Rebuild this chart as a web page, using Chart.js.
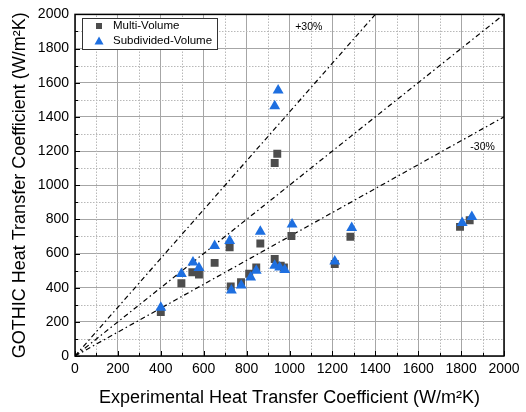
<!DOCTYPE html>
<html>
<head>
<meta charset="utf-8">
<script src="https://cdn.jsdelivr.net/npm/chart.js@4"></script>
<style>
  html, body { margin: 0; padding: 0; background: #fff; }
  #stage { display: block; }
</style>
</head>
<body>
<canvas id="stage" width="526" height="412"></canvas>
<script>
// 実験値 (x) と GOTHIC 計算値 (y)
const multiX = [400, 496, 547, 578, 651, 721, 726, 774, 812, 845, 864, 931, 943, 931, 959, 974, 1009, 1211, 1284, 1795, 1840];
const multiY = [258, 426, 490, 477, 545, 636, 407, 432, 482, 519, 659, 1130, 1184, 568, 529, 519, 703, 539, 698, 756, 795];
const subX = [400, 496, 550, 578, 651, 721, 729, 775, 819, 845, 864, 931, 947, 931, 954, 978, 1012, 1211, 1290, 1805, 1850];
const subY = [283, 481, 548, 516, 645, 674, 384, 413, 461, 500, 729, 1463, 1556, 529, 519, 504, 771, 554, 750, 780, 815];

// 参照線 (+30%, 1:1, -30%)
const refUpperX = [0, 1400];
const refUpperY = [0, 2000];
const refEqualX = [0, 2000];
const refEqualY = [0, 2000];
const refLowerX = [0, 2000];
const refLowerY = [0, 1400];

const axisMin = 0, axisMax = 2000, majorStep = 200, minorStep = 100;

const FONT = "'Liberation Sans', Arial, sans-serif";
const SQ_COLOR = 'rgb(77,77,77)';
const TRI_COLOR = 'rgb(30,111,224)';
const DASHDOT = [5, 3, 1.5, 3];

function pts(xs, ys) {
    return xs.map((x, i) => ({ x: x, y: ys[i] }));
}

// 補助目盛りの点線グリッドと内向き目盛り・注記・凡例
const decorPlugin = {
    id: 'decor',
    beforeDatasetsDraw(chart) {
        const ctx = chart.ctx;
        const a = chart.chartArea;
        const xs = chart.scales.x, ys = chart.scales.y;
        ctx.save();
        ctx.strokeStyle = '#b8b8b8';
        ctx.lineWidth = 1;
        ctx.setLineDash([1.5, 1.5]);
        for (const t of chart.scales.xm.ticks) {
            if (t.value % majorStep === 0) continue;
            const px = Math.round(xs.getPixelForValue(t.value)) + 0.5;
            ctx.beginPath();
            ctx.moveTo(px, a.bottom);
            ctx.lineTo(px, a.top);
            ctx.stroke();
        }
        for (const t of chart.scales.ym.ticks) {
            if (t.value % majorStep === 0) continue;
            const py = Math.round(ys.getPixelForValue(t.value)) + 0.5;
            ctx.beginPath();
            ctx.moveTo(a.left, py);
            ctx.lineTo(a.right, py);
            ctx.stroke();
        }
        ctx.restore();
    },
    afterDraw(chart) {
        const ctx = chart.ctx;
        const a = chart.chartArea;
        const xs = chart.scales.x, ys = chart.scales.y;
        ctx.save();
        // 内向きの目盛り
        ctx.strokeStyle = '#000';
        ctx.lineWidth = 1;
        for (const t of chart.scales.xm.ticks) {
            const px = Math.round(xs.getPixelForValue(t.value)) + 0.5;
            const len = t.value % majorStep === 0 ? 5 : 3;
            ctx.beginPath();
            ctx.moveTo(px, a.bottom);
            ctx.lineTo(px, a.bottom - len);
            ctx.stroke();
        }
        for (const t of chart.scales.ym.ticks) {
            const py = Math.round(ys.getPixelForValue(t.value)) + 0.5;
            const len = t.value % majorStep === 0 ? 5 : 3;
            ctx.beginPath();
            ctx.moveTo(a.left, py);
            ctx.lineTo(a.left + len, py);
            ctx.stroke();
        }
        // 枠
        ctx.lineWidth = 1.5;
        ctx.strokeRect(a.left, a.top, a.right - a.left, a.bottom - a.top);

        // 注記
        ctx.fillStyle = '#000';
        ctx.font = '10.5px ' + FONT;
        ctx.textAlign = 'center';
        ctx.textBaseline = 'middle';
        ctx.fillText('+30%', xs.getPixelForValue(1090), ys.getPixelForValue(1925));
        ctx.fillText('-30%', xs.getPixelForValue(1900), ys.getPixelForValue(1225));

        // 凡例
        const bx = 82, by = 18, bw = 135, bh = 31;
        ctx.fillStyle = '#fff';
        ctx.fillRect(bx, by, bw, bh);
        ctx.strokeStyle = '#333';
        ctx.lineWidth = 1;
        ctx.strokeRect(bx + 0.5, by + 0.5, bw, bh);
        ctx.fillStyle = SQ_COLOR;
        ctx.fillRect(96, 23, 6, 6);
        ctx.fillStyle = TRI_COLOR;
        ctx.beginPath();
        ctx.moveTo(99, 36.5);
        ctx.lineTo(103.5, 44.5);
        ctx.lineTo(94.5, 44.5);
        ctx.closePath();
        ctx.fill();
        ctx.fillStyle = '#000';
        ctx.font = '11.5px ' + FONT;
        ctx.textAlign = 'left';
        ctx.fillText(chart.data.datasets[1].label, 113, 26);
        ctx.fillText(chart.data.datasets[0].label, 113, 41);
        ctx.restore();
    }
};

const lineStyle = {
    type: 'line',
    borderColor: '#000',
    borderWidth: 1.2,
    borderDash: DASHDOT,
    pointRadius: 0,
    fill: false,
    order: 3
};

const plainTick = v => String(v);

new Chart(document.getElementById('stage'), {
    type: 'scatter',
    data: {
        datasets: [
            {
                label: 'Subdivided-Volume',
                data: pts(subX, subY),
                pointStyle: 'triangle',
                pointRadius: 6.3,
                backgroundColor: TRI_COLOR,
                borderColor: TRI_COLOR,
                borderWidth: 0,
                order: 0
            },
            {
                label: 'Multi-Volume',
                data: pts(multiX, multiY),
                pointStyle: 'rect',
                pointRadius: 5.6,
                backgroundColor: SQ_COLOR,
                borderColor: SQ_COLOR,
                borderWidth: 0,
                order: 1
            },
            Object.assign({ label: '+30%', data: pts(refUpperX, refUpperY) }, lineStyle),
            Object.assign({ label: '1:1', data: pts(refEqualX, refEqualY) }, lineStyle),
            Object.assign({ label: '-30%', data: pts(refLowerX, refLowerY) }, lineStyle)
        ]
    },
    options: {
        responsive: false,
        animation: false,
        layout: { padding: { top: 12, right: 22, left: 0, bottom: 0 } },
        plugins: {
            legend: { display: false },
            tooltip: { enabled: false }
        },
        scales: {
            x: {
                type: 'linear',
                position: 'bottom',
                min: axisMin, max: axisMax,
                ticks: { stepSize: majorStep, color: '#000', padding: 5, font: { family: FONT, size: 14 }, callback: plainTick },
                grid: { color: '#a6a6a6', lineWidth: 1, drawTicks: false },
                border: { display: false },
                title: {
                    display: true,
                    text: 'Experimental Heat Transfer Coefficient (W/m²K)',
                    color: '#000',
                    font: { family: FONT, size: 18 },
                    padding: { top: 2, bottom: 3 }
                },
                afterFit: function(s) { s.height = 56; }
            },
            xm: {
                type: 'linear',
                position: 'bottom',
                display: true,
                min: axisMin, max: axisMax,
                ticks: { stepSize: minorStep, display: false },
                grid: { display: false, drawTicks: false },
                border: { display: false },
                afterFit: function(s) { s.height = 0; }
            },
            y: {
                type: 'linear',
                position: 'left',
                min: axisMin, max: axisMax,
                ticks: { stepSize: majorStep, color: '#000', padding: 6, font: { family: FONT, size: 14 }, callback: plainTick },
                grid: { color: '#a6a6a6', lineWidth: 1, drawTicks: false },
                border: { display: false },
                title: {
                    display: true,
                    text: 'GOTHIC Heat Transfer Coefficient (W/m²K)',
                    color: '#000',
                    font: { family: FONT, size: 18 },
                    padding: { top: 9, bottom: 0 }
                },
                afterFit: function(s) { s.width = 75; }
            },
            ym: {
                type: 'linear',
                position: 'left',
                display: true,
                min: axisMin, max: axisMax,
                ticks: { stepSize: minorStep, display: false },
                grid: { display: false, drawTicks: false },
                border: { display: false },
                afterFit: function(s) { s.width = 0; }
            }
        }
    },
    plugins: [decorPlugin]
});
</script>
</body>
</html>
